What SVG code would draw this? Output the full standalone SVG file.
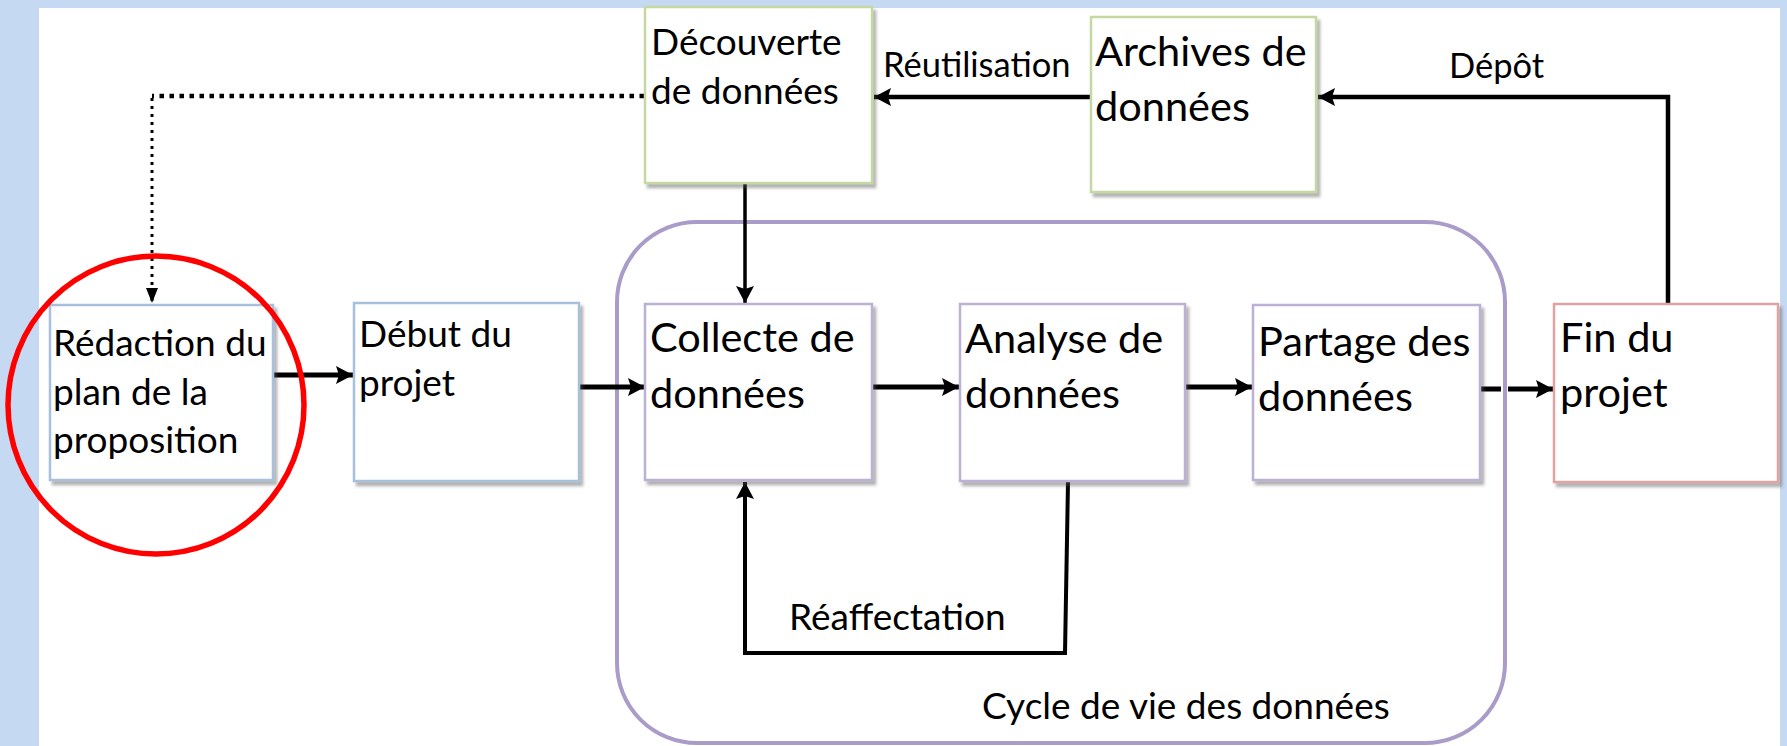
<svg xmlns="http://www.w3.org/2000/svg" width="1787" height="746" viewBox="0 0 1787 746">
<style>
  .box { fill: #ffffff; stroke-width: 2.5; filter: url(#shadow); }
  .blue { stroke: #a9c0dc; }
  .green { stroke: #c6d8a2; }
  .lav { stroke: #bcb0d4; }
  .pink { stroke: #e0a3a3; }
  .t36 { font-family: Lato, "Open Sans", sans-serif; font-size: 37px; fill: #000; }
  .t40 { font-family: Lato, "Open Sans", sans-serif; font-size: 41.5px; fill: #000; }
  .lbl { font-family: Lato, "Open Sans", sans-serif; font-size: 34.5px; fill: #000; }
  .conn { fill: none; stroke: #000; stroke-width: 4.5; marker-end: url(#arrow); }
</style>
<defs>
  <filter id="shadow" x="-10%" y="-10%" width="130%" height="130%">
    <feDropShadow dx="3" dy="4" stdDeviation="1.5" flood-color="#555" flood-opacity="0.45"/>
  </filter>
  <marker id="arrow" markerUnits="userSpaceOnUse" markerWidth="18" markerHeight="18" refX="17" refY="9" orient="auto">
    <path d="M0,0 L17,9 L0,18 L3,9 z" fill="#000"/>
  </marker>
  <marker id="arrowSmall" markerUnits="userSpaceOnUse" markerWidth="16" markerHeight="12" refX="15" refY="6" orient="auto">
    <path d="M0,0 L15,6 L0,12 z" fill="#000"/>
  </marker>
</defs>

<rect x="0" y="0" width="1787" height="746" fill="#c6d9f3"/>
<rect x="39" y="8" width="1741" height="738" fill="#ffffff"/>

<g id="cycle">
  <rect x="617" y="222" width="888" height="521" rx="80" ry="80" fill="none" stroke="#aa9cc9" stroke-width="4"/>
  <text class="t36" x="982" y="719">Cycle de vie des données</text>
</g>

<g id="connectors">
  <path d="M644,96 H152" fill="none" stroke="#000" stroke-width="4.5" stroke-dasharray="4.5 5.5"/>
  <path d="M152,98 V303" fill="none" stroke="#000" stroke-width="3" stroke-dasharray="3 5" marker-end="url(#arrowSmall)"/>
  <path class="conn" d="M1090,97 H874"/>
  <path class="conn" d="M1668,304 V97 H1318"/>
  <path class="conn" style="stroke-width:3.5" d="M745,184 V303"/>
  <path class="conn" style="stroke-width:5" d="M274,375 H353"/>
  <path class="conn" style="stroke-width:5" d="M580,387 H645"/>
  <path class="conn" style="stroke-width:5" d="M873,387 H959"/>
  <path class="conn" style="stroke-width:5" d="M1186,387 H1252"/>
  <path class="conn" style="stroke-width:5" d="M1481,389 H1501 M1508,389 H1553"/>
  <path class="conn" style="stroke-width:4" d="M1068,482 L1065,653 H745 V482"/>
  <text class="lbl" x="883" y="77">Réutilisation</text>
  <text class="lbl" x="1449" y="78">Dépôt</text>
  <text class="t36" x="789" y="630">Réaffectation</text>
</g>

<g id="redaction">
  <rect class="box blue" x="50" y="305" width="223" height="175"/>
  <text class="t36" x="53" y="356">Rédaction du</text>
  <text class="t36" x="53" y="405">plan de la</text>
  <text class="t36" x="53" y="453">proposition</text>
</g>

<g id="debut">
  <rect class="box blue" x="354" y="303" width="225" height="178"/>
  <text class="t36" x="359" y="347">Début du</text>
  <text class="t36" x="359" y="396">projet</text>
</g>

<g id="decouverte">
  <rect class="box green" x="645" y="7" width="227" height="176"/>
  <text class="t36" x="651" y="55">Découverte</text>
  <text class="t36" x="651" y="104">de données</text>
</g>

<g id="archives">
  <rect class="box green" x="1091" y="17" width="225" height="175"/>
  <text class="t40" x="1095" y="66">Archives de</text>
  <text class="t40" x="1095" y="121">données</text>
</g>

<g id="collecte">
  <rect class="box lav" x="645" y="304" width="227" height="176"/>
  <text class="t40" x="650" y="352">Collecte de</text>
  <text class="t40" x="650" y="408">données</text>
</g>

<g id="analyse">
  <rect class="box lav" x="960" y="304" width="225" height="177"/>
  <text class="t40" x="965" y="353">Analyse de</text>
  <text class="t40" x="965" y="408">données</text>
</g>

<g id="partage">
  <rect class="box lav" x="1253" y="305" width="227" height="175"/>
  <text class="t40" x="1258" y="356">Partage des</text>
  <text class="t40" x="1258" y="411">données</text>
</g>

<g id="fin">
  <rect class="box pink" x="1554" y="304" width="224" height="178"/>
  <text class="t40" x="1560" y="352">Fin du</text>
  <text class="t40" x="1560" y="407">projet</text>
</g>

<g id="highlight">
  <ellipse cx="156" cy="405" rx="148" ry="149" fill="none" stroke="#ff0000" stroke-width="5.5"/>
</g>
</svg>
